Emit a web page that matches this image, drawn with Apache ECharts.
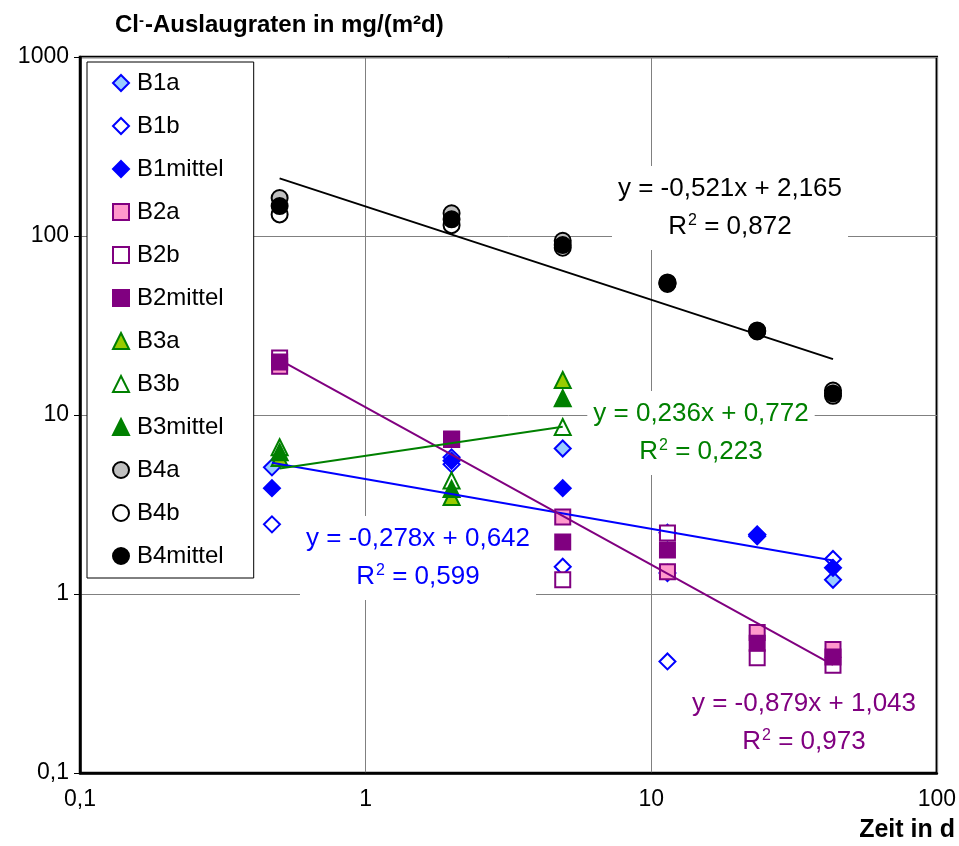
<!DOCTYPE html>
<html><head><meta charset="utf-8">
<script src="https://cdn.jsdelivr.net/npm/echarts@6/dist/echarts.min.js"></script>
<style>html,body{margin:0;padding:0;background:#fff}#c{width:959px;height:846px}</style>
</head><body><div id="c"></div>
<script>
// ---- data ----
const daysB1 = [0.47, 2, 4.9, 11.4, 23.5, 43.3];
const days = [0.5, 2, 4.9, 11.4, 23.5, 43.3];
const daysB3 = [0.5, 2, 4.9];

const B1a = [5.1, 5.8, 6.5, 2.2, 2.15, 1.2];
const B1b = [2.45, 5.3, 1.42, 0.42, 2.1, 1.57];
const B1mittel = [3.9, 5.55, 3.9, 1.31, 2.14, 1.4];
const B2a = [18.7, 7.3, 2.69, 1.33, 0.61, 0.49];
const B2b = [20.8, 7.3, 1.2, 2.19, 0.44, 0.4];
const B2mittel = [19.8, 7.35, 1.95, 1.76, 0.53, 0.445];
const B3a = [5.75, 3.48, 15.7];
const B3b = [6.6, 4.3, 8.57];
const B3mittel = [6.2, 3.86, 12.4];
const B4a = [163, 134, 94, 55, 29.7, 13.7];
const B4b = [132, 115, 86, 54, 29.3, 12.8];
const B4mittel = [147, 124, 89, 54.5, 29.5, 13.2];

// trendlines (power fit: log10 y = m*log10 x + b)
const trendNames = ['B1', 'B2', 'B3', 'B4'];
const trendSlope = [-0.278, -0.879, 0.236, -0.521];
const trendIntercept = [0.642, 1.043, 0.772, 2.165];
const trendEq = ['y = -0,278x + 0,642', 'y = -0,879x + 1,043', 'y = 0,236x + 0,772', 'y = -0,521x + 2,165'];
const trendR2 = ['0,599', '0,973', '0,223', '0,872'];

const xTicks = [0.1, 1, 10, 100];
const yTicks = [0.1, 1, 10, 100, 1000];

// ---- build ----
const zip = (xs, ys) => xs.map((x, i) => [x, ys[i]]);
const defs = [
  ['B1a', daysB1, B1a, 'diamond', '#99CCFF', '#0000FF', 16],
  ['B1b', daysB1, B1b, 'diamond', '#FFFFFF', '#0000FF', 16],
  ['B1mittel', daysB1, B1mittel, 'diamond', '#0000FF', '#0000FF', 16],
  ['B2a', days, B2a, 'rect', '#FF99CC', '#800080', 15],
  ['B2b', days, B2b, 'rect', '#FFFFFF', '#800080', 15],
  ['B2mittel', days, B2mittel, 'rect', '#800080', '#800080', 15],
  ['B3a', daysB3, B3a, 'triangle', '#99CC00', '#008000', 16],
  ['B3b', daysB3, B3b, 'triangle', '#FFFFFF', '#008000', 16],
  ['B3mittel', daysB3, B3mittel, 'triangle', '#008000', '#008000', 16],
  ['B4a', days, B4a, 'circle', '#C0C0C0', '#000000', 16],
  ['B4b', days, B4b, 'circle', '#FFFFFF', '#000000', 16],
  ['B4mittel', days, B4mittel, 'circle', '#000000', '#000000', 16]
];
const series = defs.map(d => ({
  name: d[0], type: 'scatter', data: zip(d[1], d[2]),
  symbol: d[3], symbolSize: d[6], z: 3,
  itemStyle: { color: d[4], borderColor: d[5], borderWidth: 2, opacity: 1 }
}));
const trendColors = ['#0000FF', '#800080', '#008000', '#000000'];
const trendX = [daysB1, days, daysB3, days];
trendNames.forEach((n, i) => {
  const xs = trendX[i];
  const x0 = Math.min(...xs), x1 = Math.max(...xs);
  const f = x => Math.pow(10, trendSlope[i] * Math.log10(x) + trendIntercept[i]);
  series.push({
    name: n + ' Trend', type: 'line', data: [[x0, f(x0)], [x1, f(x1)]],
    symbol: 'none', z: 5, silent: true,
    lineStyle: { color: trendColors[i], width: 2 }
  });
});

const fmt = v => String(Number(v.toPrecision(6))).replace('.', ',');
const F = '"Liberation Sans", Arial, sans-serif';

function eqLabel(i, cx, top) {
  return {
    type: 'text', x: cx, y: top, z: 100,
    style: {
      text: '{t|' + trendEq[i] + '}\n{t|R}{s|2}{t| = ' + trendR2[i] + '}',
      fill: trendColors[i], align: 'center', verticalAlign: 'top',
      backgroundColor: '#fff', padding: [4, 6, 4, 6],
      rich: {
        t: { font: '26px ' + F, fill: trendColors[i], lineHeight: 38 },
        s: { font: '16px ' + F, fill: trendColors[i], lineHeight: 38, padding: [0, 0, 12, 1] }
      }
    }
  };
}

const chart = echarts.init(document.getElementById('c'), null, { renderer: 'canvas' });
chart.setOption({
  animation: false,
  backgroundColor: '#fff',
  textStyle: { fontFamily: F },
  grid: { left: 80, top: 57, width: 857, height: 716, show: true, borderColor: '#000', borderWidth: 2.5, backgroundColor: 'transparent' },
  xAxis: {
    type: 'log', logBase: 10, min: xTicks[0], max: xTicks[xTicks.length - 1],
    axisLine: { lineStyle: { color: '#000', width: 2.5 } },
    axisTick: { show: false },
    splitLine: { show: true, lineStyle: { color: '#808080', width: 1 } },
    minorTick: { show: false },
    axisLabel: { formatter: fmt, color: '#000', fontSize: 23, margin: 15, fontFamily: F }
  },
  yAxis: {
    type: 'log', logBase: 10, min: yTicks[0], max: yTicks[yTicks.length - 1],
    axisLine: { lineStyle: { color: '#000', width: 2.5 } },
    axisTick: { show: true, inside: false, length: 6, lineStyle: { color: '#000' } },
    splitLine: { show: true, lineStyle: { color: '#808080', width: 1 } },
    axisLabel: { formatter: fmt, color: '#000', fontSize: 23, margin: 11, fontFamily: F }
  },
  legend: {
    data: defs.map(d => d[0]), orient: 'vertical', left: 87, top: 62,
    padding: [9, 30, 10, 25], itemGap: 19, itemWidth: 16, itemHeight: 16,
    backgroundColor: '#fff', borderColor: '#000', borderWidth: 1,
    textStyle: { color: '#000', fontSize: 24, fontFamily: F, lineHeight: 21, padding: [0, 0, 0, 3] },
    selectedMode: false
  },
  graphic: [
    { type: 'text', left: 115, top: 13, z: 100,
      style: { text: '{a|Cl}{s|-}{a|-Auslaugraten in mg/(m²d)}',
        rich: { a: { font: 'bold 24px ' + F, fill: '#000' }, s: { font: 'bold 15px ' + F, fill: '#000', padding: [0, 1, 10, 0] } } } },
    { type: 'text', right: 4, top: 818, z: 100,
      style: { text: 'Zeit in d', font: 'bold 25px ' + F, fill: '#000' } },
    eqLabel(3, 730, 166),
    eqLabel(2, 701, 391),
    eqLabel(0, 418, 516),
    eqLabel(1, 804, 681)
  ],
  series: series
});
</script></body></html>
